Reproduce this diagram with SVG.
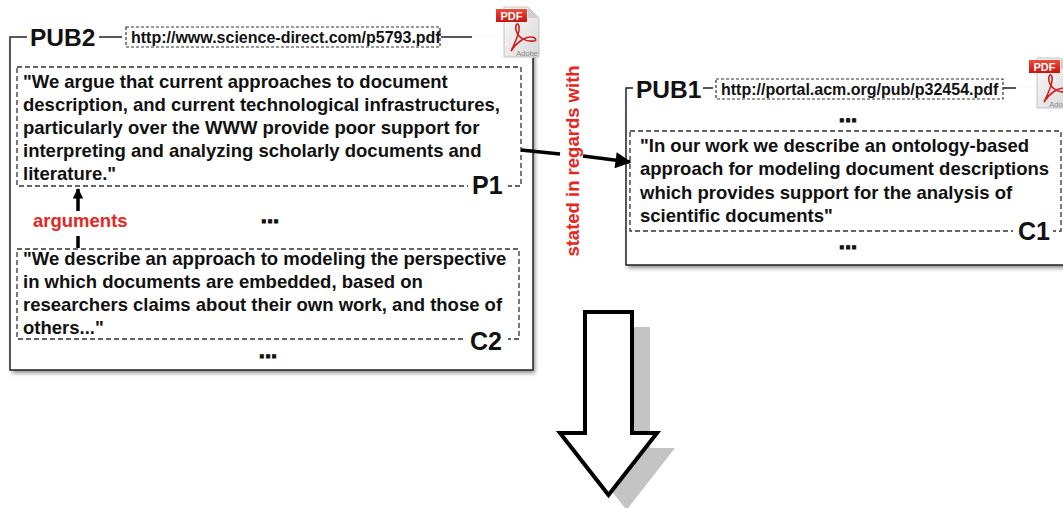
<svg xmlns="http://www.w3.org/2000/svg" width="1063" height="508" viewBox="0 0 1063 508">
<style>
text{font-family:"Liberation Sans",Arial,Helvetica,sans-serif;font-weight:bold;fill:#111}
.body{font-size:18.5px}
.dots{font-size:22px;stroke:#111;stroke-width:1}
.title{font-size:24.5px}
.lab{font-size:25px}
.url{font-size:16px}
.red{fill:#e8261e;font-size:18.5px}
.frame{fill:#fff;filter:url(#sh)}
.edge{fill:none;stroke:#222;stroke-width:1.5}
.dash{fill:none;stroke:#333;stroke-width:1.3;stroke-dasharray:5 3}
.udash{fill:#fff;stroke:#333;stroke-width:1.2;stroke-dasharray:3 2}
.conn{fill:none;stroke:#000;stroke-width:3.5}
.bg{fill:#fff}
</style>
<defs>
<filter id="sh" x="-5%" y="-5%" width="112%" height="115%">
<feDropShadow dx="2" dy="3" stdDeviation="2" flood-color="#000" flood-opacity="0.45"/>
</filter>
<marker id="ah" viewBox="0 0 10 10" refX="9" refY="5" markerWidth="5.7" markerHeight="4.6" orient="auto" markerUnits="strokeWidth">
<path d="M0,0 L10,5 L0,10 Z" fill="#000"/>
</marker>
<marker id="ah2" viewBox="0 0 10 10" refX="9" refY="5" markerWidth="3.6" markerHeight="3" orient="auto" markerUnits="strokeWidth">
<path d="M0,0 L10,5 L0,10 Z" fill="#000"/>
</marker>
<linearGradient id="pg" x1="0" y1="0" x2="1" y2="1">
<stop offset="0" stop-color="#fafafa"/><stop offset="1" stop-color="#d8d8d8"/>
</linearGradient>
<linearGradient id="rg" x1="0" y1="0" x2="0" y2="1">
<stop offset="0" stop-color="#f04a3a"/><stop offset="1" stop-color="#c8140e"/>
</linearGradient>
<g id="pdf">
<path d="M8,1 H32 L43,12 V51 H8 Z" fill="url(#pg)" stroke="#b8b8b8" stroke-width="0.8"/>
<path d="M32,1 V12 H43 Z" fill="#cfcfcf"/>
<rect x="0" y="3" width="31" height="13" fill="url(#rg)"/>
<text x="15.5" y="14" text-anchor="middle" style="fill:#fff;font-size:11px">PDF</text>
<path d="M15,45 C20,35 24,24 23,20 C22,16 19,18 20,24 C22,32 30,36 38,35 C41,35 40,31 35,31 C28,31 20,37 15,45 Z" fill="none" stroke="#d41e1e" stroke-width="1.6"/>
<text x="42" y="49.5" text-anchor="end" style="fill:#888;font-size:7.5px;font-weight:normal">Adobe</text>
</g>
</defs>
<rect width="1063" height="508" fill="#fff"/>

<g id="pub2">
<rect class="frame" x="10" y="37" width="523" height="333"/>
<path class="edge" d="M27,37 H10 V370 H533 V58 M99,37 H122 M441,37 H472"/>
<text class="title" x="30" y="46">PUB2</text>
<rect class="udash" x="126" y="27" width="314" height="20"/>
<text class="url" x="131" y="43">http://www.science-direct.com/p5793.pdf</text>
<use href="#pdf" x="496" y="6"/>
</g>

<g id="p1">
<rect class="dash" x="17" y="67" width="504" height="119"/>
<text class="body" x="23" y="88">"We argue that current approaches to document</text>
<text class="body" x="23" y="111">description, and current technological infrastructures,</text>
<text class="body" x="23" y="134">particularly over the WWW provide poor support for</text>
<text class="body" x="23" y="157">interpreting and analyzing scholarly documents and</text>
<text class="body" x="23" y="180">literature."</text>
<rect class="bg" x="468" y="180" width="40" height="12"/>
<text class="lab" x="472" y="194">P1</text>
</g>

<g id="dots1"><text class="dots" x="270" y="223" text-anchor="middle">...</text></g>

<g id="c2">
<rect class="dash" x="17" y="249" width="502" height="90"/>
<text class="body" x="23" y="265">"We describe an approach to modeling the perspective</text>
<text class="body" x="23" y="288">in which documents are embedded, based on</text>
<text class="body" x="23" y="311">researchers claims about their own work, and those of</text>
<text class="body" x="23" y="334">others..."</text>
<rect class="bg" x="466" y="333" width="42" height="12"/>
<text class="lab" x="470" y="350">C2</text>
</g>

<g id="dots2"><text class="dots" x="268" y="358" text-anchor="middle">...</text></g>

<g id="pub1">
<rect class="frame" x="626" y="88" width="460" height="177"/>
<path class="edge" d="M633,88 H626 V265 H1070 M703,88 H713 M1003,88 H1016"/>
<text class="title" x="636" y="98">PUB1</text>
<rect class="udash" x="716" y="79" width="287" height="20"/>
<text class="url" x="721" y="95">http://portal.acm.org/pub/p32454.pdf</text>
<use href="#pdf" x="1029" y="57"/>
<text class="dots" x="848" y="122" text-anchor="middle">...</text>
</g>

<g id="c1">
<rect class="dash" x="630" y="131" width="431" height="100"/>
<text class="body" x="640" y="152">"In our work we describe an ontology-based</text>
<text class="body" x="640" y="175">approach for modeling document descriptions</text>
<text class="body" x="640" y="199">which provides support for the analysis of</text>
<text class="body" x="640" y="222">scientific documents"</text>
<rect class="bg" x="1013" y="225" width="40" height="12"/>
<text class="lab" x="1018" y="240">C1</text>
<text class="dots" x="848" y="249" text-anchor="middle">...</text>
</g>

<g id="connectors">
<path class="conn" d="M78,248 V236"/>
<path class="conn" d="M78,211 V189" marker-end="url(#ah2)"/>
<text class="red" x="33" y="227">arguments</text>
<path class="conn" d="M521,150 L560,154"/>
<path class="conn" d="M583,156 L630,162" marker-end="url(#ah)"/>
<text class="red" transform="translate(579,161) rotate(-90)" text-anchor="middle">stated in regards with</text>
</g>

<g id="bigarrow">
<polygon points="603,327 650,327 650,448 675,448 626.5,510 578,448 603,448" fill="#c4c4c4"/>
<polygon points="585,312 632,312 632,433 657,433 608.5,495 560,433 585,433" fill="#fff" stroke="#000" stroke-width="4" stroke-linejoin="miter"/>
</g>
</svg>
